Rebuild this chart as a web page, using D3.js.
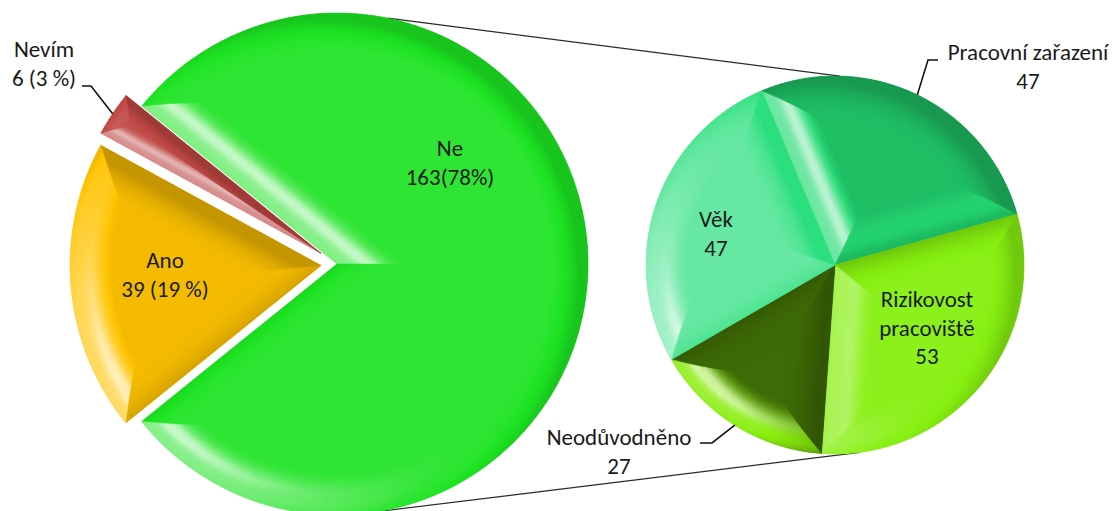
<!DOCTYPE html>
<html>
<head>
<meta charset="utf-8">
<script src="https://cdn.jsdelivr.net/npm/d3@7"></script>
<style>
  html, body { margin: 0; padding: 0; background: #ffffff; }
  svg { display: block; }
  .lbl { font-family: Carlito, Calibri, Lato, sans-serif; font-size: 23px; fill: #1a1a1a; }
</style>
</head>
<body>
<svg id="chart" width="1115" height="511"></svg>
<script>
// Primary pie: answers
const answers = ["Ne", "Ano", "Nevím"];
const answerCounts = [163, 39, 6];
const answerColors = ["#2fe534", "#f4bb00", "#c0504d"];

// Secondary pie: breakdown of the "Ne" answers
const reasons = ["Pracovní zařazení", "Rizikovost pracoviště", "Neodůvodněno", "Věk"];
const reasonCounts = [47, 53, 27, 47];
const reasonColors = ["#1fbf64", "#8cf01c", "#3e6b06", "#66e8a2"];

const DEG = Math.PI / 180;
const svg = d3.select("#chart");

// ---------- layout ----------
const main = { cx: 337, cy: 264, r: 251, start: -51 * DEG, explode: [0, 16, 19] };
const sec  = { cx: 835, cy: 265, r: 189, start: -22.8 * DEG };
const BEVEL = 44;           // bevel width in px
const LAYERS = 20;          // profile steps across the bevel
const PHI = 68 * DEG;       // steepest tilt of the bevel at the rim
const PROFILE = 1.7;        // >1: the tilt is concentrated near the rim
const LINE_H = 28.5;

// ---------- lighting ----------
function normalize(v) { const l = Math.hypot(...v); return v.map(x => x / l); }
const LIGHT = normalize([-0.62, 0.48, 0.62]);
const HALF = normalize([LIGHT[0], LIGHT[1], LIGHT[2] + 1]);
const AMB = 0.55;

function facetColor(base, nx, ny, tilt) {
  const s = Math.sin(tilt), c = Math.cos(tilt);
  const N = [nx * s, ny * s, c];
  const lit = AMB + (1 - AMB) * Math.max(0, N[0] * LIGHT[0] + N[1] * LIGHT[1] + N[2] * LIGHT[2]);
  const lit0 = AMB + (1 - AMB) * LIGHT[2];
  const ratio = lit / lit0;
  const h = d3.hsl(base);
  if (ratio >= 1) {
    const f = Math.min(0.8, (ratio - 1) * 2.4);
    h.l = h.l + (0.96 - h.l) * f;
  } else {
    h.l = h.l * (1 - (1 - ratio) * 0.6);
  }
  let col = h.formatHex();
  const nh = N[0] * HALF[0] + N[1] * HALF[1] + N[2] * HALF[2];
  const spec = Math.max(0, Math.pow(Math.max(0, nh), 36) - Math.pow(HALF[2], 36));
  if (spec > 0) col = d3.interpolateRgb(col, "#ffffff")(Math.min(0.6, spec * 0.8));
  return col;
}

const poly = d3.line();

// Draws one slice with a bevelled rim: flat base + shaded facets along
// both radial edges and along the outer arc.
function bevelSlice(g, cx, cy, r, a0, a1, base, w) {
  const alpha = a1 - a0, half = alpha / 2, mid = (a0 + a1) / 2;
  let we = w;
  if (alpha < Math.PI) we = Math.min(w, r * Math.sin(half) / (1 + Math.sin(half)) - 0.01);
  const U = a => [Math.sin(a), -Math.cos(a)];
  const P = (rad, a) => [cx + rad * Math.sin(a), cy - rad * Math.cos(a)];
  const n0 = [Math.cos(a0), Math.sin(a0)];
  const n1 = [-Math.cos(a1), -Math.sin(a1)];
  const um = U(mid), u0 = U(a0), u1 = U(a1);
  const sh = Math.sin(half);
  const tip = t => [cx + um[0] * t / sh, cy + um[1] * t / sh];
  const sAt = t => Math.sqrt(Math.max(0, (r - t) * (r - t) - t * t));
  const c0 = t => { const s = sAt(t); return [cx + s * u0[0] + t * n0[0], cy + s * u0[1] + t * n0[1]]; };
  const c1 = t => { const s = sAt(t); return [cx + s * u1[0] + t * n1[0], cy + s * u1[1] + t * n1[1]]; };
  const A = t => a0 + Math.atan2(t, sAt(t));
  const B = t => a1 - Math.atan2(t, sAt(t));

  g.append("path")
    .attr("transform", `translate(${cx},${cy})`)
    .attr("d", d3.arc()({ innerRadius: 0, outerRadius: r, startAngle: a0, endAngle: a1 }))
    .attr("fill", base);

  const M = Math.max(2, Math.ceil(alpha / (2 * DEG)));
  for (let k = 0; k < LAYERS; k++) {
    const t = we * k / LAYERS, t2 = we * (k + 1) / LAYERS;
    const u = 1 - (k + 0.5) / LAYERS;
    const tilt = PHI * Math.pow(u, PROFILE);
    const facets = [];
    facets.push({ pts: [tip(t), c0(t), c0(t2), tip(t2)], n: [-n0[0], -n0[1]] });
    facets.push({ pts: [tip(t), c1(t), c1(t2), tip(t2)], n: [-n1[0], -n1[1]] });
    const ao = A(t), bo = B(t), ai = A(t2), bi = B(t2);
    for (let j = 0; j < M; j++) {
      const f0 = j / M, f1 = (j + 1) / M;
      const o0 = ao + (bo - ao) * f0, o1 = ao + (bo - ao) * f1;
      const i0 = ai + (bi - ai) * f0, i1 = ai + (bi - ai) * f1;
      facets.push({ pts: [P(r - t, o0), P(r - t, o1), P(r - t2, i1), P(r - t2, i0)], n: U((o0 + o1) / 2) });
    }
    facets.forEach(f => {
      const col = facetColor(base, f.n[0], f.n[1], tilt);
      g.append("path").attr("d", poly(f.pts) + "Z")
        .attr("fill", col).attr("stroke", col).attr("stroke-width", 0.6)
        .attr("stroke-linejoin", "round");
    });
  }
}

const mainArcs = d3.pie().sort(null).value(d => d)
  .startAngle(main.start).endAngle(main.start + 2 * Math.PI)(answerCounts);
const secArcs = d3.pie().sort(null).value(d => d)
  .startAngle(sec.start).endAngle(sec.start + 2 * Math.PI)(reasonCounts);
const mainTotal = d3.sum(answerCounts);

const onCircle = (c, rad, a) => [c.cx + rad * Math.sin(a), c.cy - rad * Math.cos(a)];

// ---------- connector lines between the pies ----------
const connectors = [[11.7, 1.5], [170, 172.4]];
const gLines = svg.append("g");
connectors.forEach(([am, as]) => {
  const p = onCircle(main, main.r, am * DEG), q = onCircle(sec, sec.r, as * DEG);
  gLines.append("line").attr("x1", p[0]).attr("y1", p[1]).attr("x2", q[0]).attr("y2", q[1])
    .attr("stroke", "#2a2a2a").attr("stroke-width", 1.2);
});

// ---------- pies ----------
const gMain = svg.append("g");
const mainCenters = mainArcs.map((a, i) => {
  const mid = (a.startAngle + a.endAngle) / 2, e = main.explode[i];
  return { cx: main.cx + e * Math.sin(mid), cy: main.cy - e * Math.cos(mid), r: main.r };
});
mainArcs.forEach((a, i) => {
  const c = mainCenters[i];
  bevelSlice(gMain, c.cx, c.cy, main.r, a.startAngle, a.endAngle, answerColors[i], BEVEL);
});

const gSec = svg.append("g");
secArcs.forEach((a, i) => {
  bevelSlice(gSec, sec.cx, sec.cy, sec.r, a.startAngle, a.endAngle, reasonColors[i], BEVEL);
});

// ---------- labels ----------
const pct = v => Math.round(v / mainTotal * 100);
const mainLabels = [
  [answers[0], `${answerCounts[0]}(${pct(answerCounts[0])}%)`],
  [answers[1], `${answerCounts[1]} (${pct(answerCounts[1])} %)`],
  [answers[2], `${answerCounts[2]} (${pct(answerCounts[2])} %)`]
];
const secLabels = reasons.map((name, i) =>
  (i === 1 ? name.split(" ") : [name]).concat([String(reasonCounts[i])]));

const mainLabelPos = [[450, 156], [165, 268], [44, 57]];
const secLabelPos = [[1028, 60], [927, 307], [619, 445], [716, 227]];

const gText = svg.append("g");
function addLabel(lines, [x, y]) {
  const t = gText.append("text").attr("class", "lbl").attr("text-anchor", "middle");
  lines.forEach((s, i) => t.append("tspan").attr("x", x).attr("y", y + i * LINE_H).text(s));
}
mainLabels.forEach((l, i) => addLabel(l, mainLabelPos[i]));
secLabels.forEach((l, i) => addLabel(l, secLabelPos[i]));

// ---------- leader lines for labels outside their slice ----------
const leaders = [
  { pie: "main", i: 2, pts: [[82, 86], [91, 86]] },
  { pie: "sec", i: 0, pts: [[938, 60], [928, 60]] },
  { pie: "sec", i: 2, pts: [[700, 443], [712, 443]] }
];
leaders.forEach(L => {
  const a = L.pie === "main" ? mainArcs[L.i] : secArcs[L.i];
  const c = L.pie === "main" ? mainCenters[L.i] : sec;
  const end = onCircle(c, c.r, (a.startAngle + a.endAngle) / 2);
  svg.append("path").attr("d", d3.line()(L.pts.concat([end])))
    .attr("fill", "none").attr("stroke", "#111").attr("stroke-width", 1.6);
});
</script>
</body>
</html>
